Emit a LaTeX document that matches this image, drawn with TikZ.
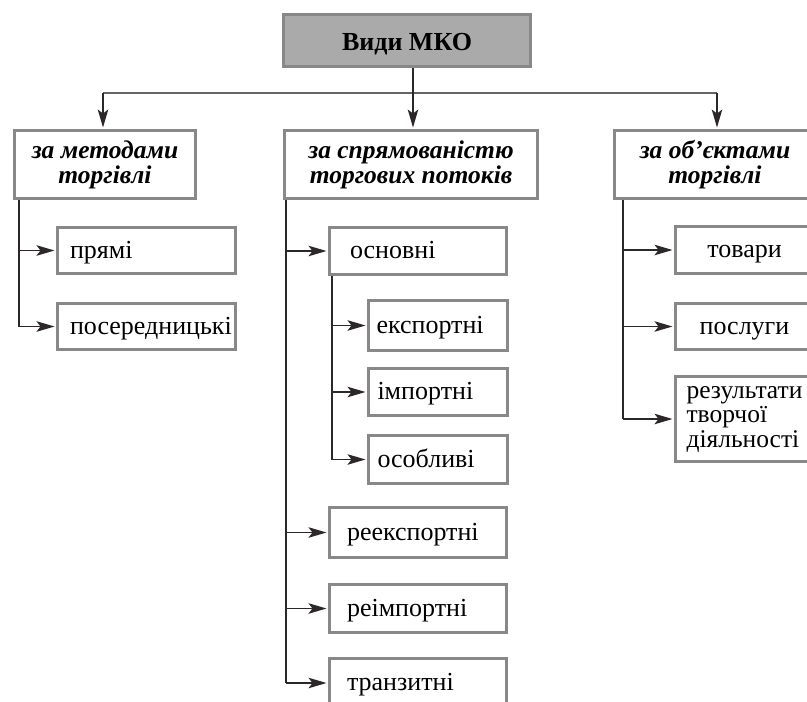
\documentclass[tikz,border=0pt]{standalone}
\usepackage{fontspec}
\setmainfont{Liberation Serif}
\usetikzlibrary{arrows.meta,calc}
\definecolor{boxgray}{RGB}{136,136,136}
\definecolor{headfill}{RGB}{170,170,170}
\definecolor{linegray}{RGB}{100,100,100}
\definecolor{linedark}{RGB}{45,40,40}
\newcommand\lpad[2]{\makebox[#1][l]{#2}}
\begin{document}
\begin{tikzpicture}[x=1pt,y=-1pt,
 box/.style={draw=boxgray, line width=3pt, fill=white, inner sep=0pt,
   font=\fontsize{26}{26}\selectfont, text=black},
 headbox/.style={box, fill=headfill, font=\fontsize{26}{26}\bfseries\selectfont,
   minimum width=247pt, minimum height=52pt, text height=19pt, text depth=0pt},
 catbox/.style={box, font=\fontsize{25.5}{25}\bfseries\itshape\selectfont, align=center,
   minimum height=68pt},
 subbox/.style={box, minimum height=47pt},
 one/.style={subbox, text height=15pt, text depth=0pt},
 conn/.style={draw=linedark, line width=1.5pt},
 hline/.style={draw=linegray, line width=2.2pt},
 arr/.style={conn, shorten >=1.5pt, -{Stealth[length=18pt,width=10.5pt,inset=4pt]}},
]
\useasboundingbox (0,0) rectangle (807,702);

% head
\node[headbox] (top) at (407,40.5) {Види МКО};

% categories
\node[catbox, minimum width=181pt] (c1) at (105,164.5) {за методами\\торгівлі};
\node[catbox, minimum width=253pt] (c2) at (411,164.5) {за спрямованістю\\торгових потоків};
\node[catbox, minimum width=201pt] (c3) at (715,164.5) {за об’єктами\\торгівлі};

% left children
\node[one, minimum width=178pt, minimum height=46pt] (a1) at (146.5,250.5) {\lpad{178pt}{\hspace{12.5pt}прямі}};
\node[one, minimum width=178pt, minimum height=46pt] (a2) at (146.5,326.5) {\lpad{178pt}{\hspace{12.5pt}посередницькі}};

% middle children
\node[one, minimum width=177pt] (m1) at (418,251) {\lpad{177pt}{\hspace{20.5pt}основні}};
\node[one, minimum width=139pt, minimum height=50pt] (s1) at (438,325.5) {\lpad{139pt}{\hspace{8pt}експортні}};
\node[one, minimum width=139pt] (s2) at (438,392) {\lpad{139pt}{\hspace{9pt}імпортні}};
\node[one, minimum width=139pt, minimum height=48pt] (s3) at (438,459.5) {\lpad{139pt}{\hspace{9pt}особливі}};
\node[one, minimum width=177pt, minimum height=50pt] (m2) at (418,532.5) {\lpad{177pt}{\hspace{17.5pt}реекспортні}};
\node[one, minimum width=177pt, minimum height=48pt] (m3) at (418,608.5) {\lpad{177pt}{\hspace{17.5pt}реімпортні}};
\node[one, minimum width=177pt, minimum height=49pt] (m4) at (418,683) {\lpad{177pt}{\hspace{17.5pt}транзитні}};

% right children
\node[one, minimum width=138pt] (r1) at (744.5,250) {товари};
\node[one, minimum width=138pt, minimum height=46pt] (r2) at (744.5,326.5) {послуги};
\node[subbox, minimum width=138pt, minimum height=85pt, align=left,
  font=\fontsize{25.5}{24.5}\selectfont] (r3) at (744.5,419) {результати\\творчої\\діяльності};

% top connectors
\coordinate (h1) at (103,93);
\coordinate (h2) at (413,93);
\coordinate (h3) at (717,93);
\draw[hline] (h1) -- (h3);
\draw[conn] (h2 |- top.south) -- (h2);
\draw[arr] (h1) -- (h1 |- c1.north);
\draw[arr] (h2) -- (h2 |- c2.north);
\draw[arr] (h3) -- (h3 |- c3.north);

% left branch
\coordinate (v1) at (19,200);
\draw[conn] (v1) -- (v1 |- a2.west);
\draw[arr] (v1 |- a1.west) -- (a1.west);
\draw[arr] (v1 |- a2.west) -- (a2.west);

% middle branch
\coordinate (v2) at (286,200);
\draw[conn] (v2) -- (v2 |- m4.west);
\draw[arr] (v2 |- m1.west) -- (m1.west);
\draw[arr] (v2 |- m2.west) -- (m2.west);
\draw[arr] (v2 |- m3.west) -- (m3.west);
\draw[arr] (v2 |- m4.west) -- (m4.west);

\coordinate (v4) at (332,276);
\draw[conn] (v4) -- (v4 |- s3.west);
\draw[arr] (v4 |- s1.west) -- (s1.west);
\draw[arr] (v4 |- s2.west) -- (s2.west);
\draw[arr] (v4 |- s3.west) -- (s3.west);

% right branch
\coordinate (v3) at (623,200);
\coordinate (r3in) at (r3.west);
\draw[conn] (v3) -- (v3 |- r3in);
\draw[arr] (v3 |- r1.west) -- (r1.west);
\draw[arr] (v3 |- r2.west) -- (r2.west);
\draw[arr] (v3 |- r3in) -- (r3in);
\end{tikzpicture}
\end{document}
